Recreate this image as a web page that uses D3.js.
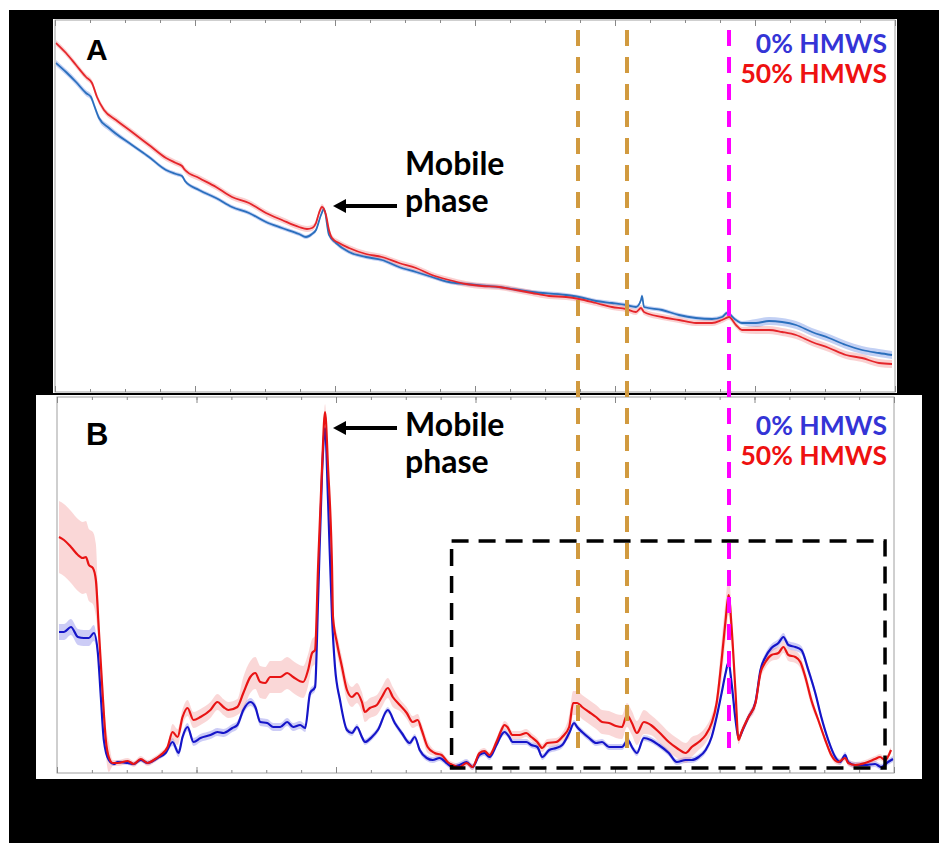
<!DOCTYPE html>
<html>
<head>
<meta charset="utf-8">
<script src="https://cdn.jsdelivr.net/npm/d3@7"></script>
<style>
  html, body { margin: 0; padding: 0; background: #fff; }
  svg { display: block; }
  text { font-family: Lato, "Open Sans", sans-serif; font-weight: 700; }
</style>
</head>
<body>
<svg id="chart" width="939" height="843"></svg>
<script>
// x in scan units (0..840), y in arbitrary intensity units
// panel A: 0% HMWS (blue) and 50% HMWS (red), raw spectra
const aBlue = [[1,329],[11,320],[21,310],[31,299],[36,295],[39,287],[44,274],[54,264],[77,247],[94,235],[111,222],[121,218],[127,216],[130,211],[144,202],[161,194],[177,185],[194,179],[211,170],[227,164],[244,158],[251,155],[257,158],[261,162],[266,177],[269,183],[274,157],[281,149],[294,140],[311,135],[327,132],[344,125],[361,120],[377,115],[394,110],[411,108],[444,105],[477,100],[511,97],[524,95],[541,91],[557,89],[571,87],[581,85],[586,92],[587,96],[589,85],[607,82],[624,77],[641,74],[657,73],[667,75],[672,79],[681,72],[687,69],[701,69],[714,71],[727,70],[741,67],[757,60],[774,54],[791,47],[807,42],[824,39],[837,37]];
const aRed = [[1,349],[11,339],[21,327],[31,315],[37,309],[42,295],[49,282],[61,272],[77,260],[94,247],[111,234],[121,229],[127,226],[130,222],[144,214],[161,205],[177,195],[194,189],[211,179],[227,172],[244,165],[252,163],[257,164],[261,169],[264,179],[267,185],[271,177],[274,162],[277,154],[284,149],[294,144],[311,138],[327,135],[344,129],[361,124],[377,117],[394,112],[411,108],[427,106],[444,105],[461,102],[477,99],[494,96],[511,95],[524,93],[541,89],[557,85],[571,83],[581,80],[586,84],[589,80],[607,75],[624,72],[641,69],[657,69],[667,72],[674,75],[681,67],[687,62],[701,62],[714,62],[727,60],[741,57],[757,50],[774,44],[791,37],[807,34],[824,29],[837,28]];

// panel B: processed spectra
const bBlue = [[2,141],[7,141],[14,146],[21,136],[27,135],[32,135],[37,140],[41,120],[44,76],[47,33],[52,13],[57,9],[61,11],[71,10],[77,9],[84,13],[91,10],[101,15],[109,20],[116,31],[122,20],[126,36],[131,46],[137,31],[144,35],[154,38],[161,41],[167,40],[176,45],[181,48],[187,63],[194,71],[199,66],[204,51],[211,50],[217,46],[224,46],[231,51],[237,46],[244,48],[249,45],[254,80],[259,86],[262,173],[266,300],[269,345],[272,273],[276,156],[279,106],[284,73],[291,43],[296,40],[301,46],[306,36],[309,31],[316,36],[322,43],[332,63],[339,50],[346,40],[354,30],[359,36],[364,23],[371,15],[377,13],[384,15],[391,10],[397,6],[404,8],[411,11],[417,6],[424,18],[429,20],[434,16],[441,28],[446,38],[449,41],[454,36],[457,31],[464,31],[471,31],[476,28],[482,26],[487,16],[494,23],[501,25],[507,28],[514,40],[519,50],[522,46],[527,41],[534,35],[541,30],[547,31],[554,26],[561,26],[567,26],[573,33],[577,26],[582,20],[589,35],[596,33],[604,28],[614,20],[622,11],[631,13],[637,13],[644,16],[651,23],[657,36],[662,56],[667,80],[671,100],[674,111],[677,90],[681,53],[684,35],[689,45],[694,56],[701,71],[706,103],[711,116],[717,125],[724,130],[729,136],[734,128],[741,126],[747,123],[754,103],[761,80],[767,56],[774,33],[781,16],[786,11],[791,18],[794,11],[801,8],[811,8],[821,9],[827,6],[834,11],[839,14]];
const bRed = [[2,236],[7,233],[14,226],[21,218],[26,215],[29,216],[32,208],[36,205],[39,193],[42,143],[46,76],[49,33],[52,16],[56,10],[61,10],[71,12],[77,9],[84,14],[91,10],[97,13],[104,18],[111,26],[116,41],[121,36],[126,56],[131,65],[137,53],[144,56],[154,63],[161,71],[167,66],[172,63],[181,66],[187,80],[194,96],[199,100],[204,91],[209,90],[214,96],[224,96],[231,100],[237,96],[247,91],[252,103],[256,120],[259,123],[262,206],[266,306],[269,361],[272,306],[276,206],[277,156],[281,130],[286,106],[291,83],[296,76],[301,80],[306,71],[309,61],[314,65],[321,68],[326,76],[332,85],[337,76],[344,68],[351,60],[357,51],[362,53],[366,43],[372,26],[379,20],[386,18],[392,11],[397,8],[404,6],[411,10],[417,6],[424,20],[429,22],[434,18],[441,31],[446,43],[449,48],[452,46],[457,38],[464,38],[471,40],[476,36],[482,31],[487,25],[492,30],[501,31],[507,36],[514,46],[518,70],[522,70],[527,66],[534,61],[541,56],[547,51],[554,50],[561,47],[567,46],[572,58],[577,50],[582,40],[589,51],[596,48],[604,41],[614,31],[622,25],[631,20],[637,26],[644,31],[651,38],[657,50],[662,70],[667,113],[671,153],[674,178],[677,146],[681,80],[684,33],[687,41],[694,56],[701,70],[706,100],[711,111],[717,118],[724,120],[729,126],[734,118],[741,116],[746,111],[751,96],[757,73],[764,53],[771,33],[777,18],[784,11],[791,15],[794,10],[801,8],[811,10],[821,14],[826,16],[831,13],[837,23]];

// shaded error band half widths, [xFrom, xTo, halfWidth]
const aBlueErr = [[0,60,3],[60,700,2],[700,840,4]];
const aRedErr = [[0,700,3],[700,840,4]];
const bBlueErr = [[0,40,8],[40,110,2],[110,260,4],[260,700,3],[700,760,4],[760,840,3]];
const bRedErr = [[0,40,36],[40,55,15],[55,115,3],[115,185,8],[185,255,16],[255,265,14],[265,280,8],[280,340,10],[340,375,6],[375,440,3],[440,510,4],[510,590,12],[590,640,10],[640,665,8],[665,680,20],[680,700,4],[700,760,6],[760,840,3]];

// marker positions (x units)
const orangeMarks = [523, 572];
const magentaMarks = [674];
const zoomBox = {x0: 396, x1: 831, y0: 5, y1: 232};

const legendLabels = ["0% HMWS", "50% HMWS"];
const panelLabels = ["A", "B"];

const svg = d3.select('#chart');

// background
svg.append('rect').attr('width', 939).attr('height', 843).attr('fill', '#fff');
svg.append('rect').attr('x', 9).attr('y', 10).attr('width', 930).attr('height', 833).attr('fill', '#000');

function errAt(segs, x) {
    for (const s of segs) if (x >= s[0] && x <= s[1]) return s[2];
    return 0;
}

function drawPanel(cfg) {
    const g = svg.append('g');
    g.append('rect')
        .attr('x', cfg.box[0]).attr('y', cfg.box[1])
        .attr('width', cfg.box[2]).attr('height', cfg.box[3])
        .attr('fill', '#fff');

    const x = d3.scaleLinear().domain([0, 840]).range([cfg.left, cfg.right]);
    const y = d3.scaleLinear().domain(cfg.yDomain).range([cfg.bottom, cfg.top]);

    const clipId = 'clip-' + cfg.name;
    g.append('clipPath').attr('id', clipId)
        .append('rect')
        .attr('x', cfg.left).attr('y', cfg.top)
        .attr('width', cfg.right - cfg.left).attr('height', cfg.bottom - cfg.top);

    const plot = g.append('g').attr('clip-path', `url(#${clipId})`);

    cfg.series.forEach(s => {
        const area = d3.area()
            .curve(d3.curveMonotoneX)
            .x(d => x(d[0]))
            .y0(d => y(d[1] - errAt(s.err, d[0])))
            .y1(d => y(d[1] + errAt(s.err, d[0])));
        plot.append('path')
            .datum(s.data)
            .attr('d', area)
            .attr('fill', s.band);
    });
    cfg.series.forEach(s => {
        const line = d3.line().curve(d3.curveMonotoneX).x(d => x(d[0])).y(d => y(d[1]));
        plot.append('path')
            .datum(s.data)
            .attr('d', line)
            .attr('fill', 'none')
            .attr('stroke', s.color)
            .attr('stroke-width', s.width)
            .attr('stroke-linejoin', 'round');
    });

    // frame
    g.append('rect')
        .attr('x', cfg.left).attr('y', cfg.top)
        .attr('width', cfg.right - cfg.left).attr('height', cfg.bottom - cfg.top)
        .attr('fill', 'none').attr('stroke', '#a0a0a0').attr('stroke-width', 1);

    // inward ticks, top and bottom, minor + major
    const minor = d3.range(0, 841, 35);
    const major = d3.range(0, 841, 140);
    [[minor, 3], [major, 6]].forEach(([vals, len]) => {
        g.append('g')
            .attr('transform', `translate(0,${cfg.bottom})`)
            .call(d3.axisBottom(x).tickValues(vals).tickSize(-len).tickFormat(''))
            .call(a => a.select('.domain').remove())
            .call(a => a.selectAll('line').attr('stroke', '#888'));
        g.append('g')
            .attr('transform', `translate(0,${cfg.top})`)
            .call(d3.axisTop(x).tickValues(vals).tickSize(-len).tickFormat(''))
            .call(a => a.select('.domain').remove())
            .call(a => a.selectAll('line').attr('stroke', '#888'));
    });

    // panel letter
    g.append('text')
        .attr('x', 86).attr('y', cfg.letterY)
        .attr('font-size', cfg.letterSize)
        .style('font-family', 'Liberation Sans, Arial, sans-serif')
        .style('font-weight', 700)
        .text(cfg.letter);

    // mobile phase annotation
    g.append('text').attr('x', 405).attr('y', cfg.mobileY).attr('font-size', 32).attr('fill', '#000').text('Mobile');
    g.append('text').attr('x', 405).attr('y', cfg.mobileY + 37).attr('font-size', 32).attr('fill', '#000').text('phase');
    const ay = cfg.arrowY;
    g.append('line').attr('x1', 344).attr('x2', 397).attr('y1', ay).attr('y2', ay)
        .attr('stroke', '#000').attr('stroke-width', 4);
    g.append('path')
        .attr('d', `M333,${ay} L346,${ay - 7} L346,${ay + 7} Z`)
        .attr('fill', '#000');

    // legend
    g.append('text').attr('x', 887).attr('y', cfg.legendY).attr('text-anchor', 'end')
        .attr('font-size', 26.5).attr('fill', '#3434d6').text(legendLabels[0]);
    g.append('text').attr('x', 887).attr('y', cfg.legendY + 30).attr('text-anchor', 'end')
        .attr('font-size', 26.5).attr('fill', '#ee1111').text(legendLabels[1]);

    return {x, y};
}

const pA = drawPanel({
    name: 'A', letter: panelLabels[0], letterY: 60, letterSize: 30,
    box: [53, 19, 844, 374],
    left: 55, right: 895, top: 20, bottom: 392,
    yDomain: [0, 372],
    mobileY: 175, arrowY: 206, legendY: 53,
    series: [
        {data: aBlue, err: aBlueErr, color: '#2a6fbd', band: 'rgba(120,150,230,0.45)', width: 1.8},
        {data: aRed, err: aRedErr, color: '#e5252a', band: 'rgba(240,120,120,0.35)', width: 1.8}
    ]
});

const pB = drawPanel({
    name: 'B', letter: panelLabels[1], letterY: 445, letterSize: 31,
    box: [36, 395, 886, 384],
    left: 57, right: 894, top: 397, bottom: 773,
    yDomain: [0, 376],
    mobileY: 436, arrowY: 428, legendY: 435,
    series: [
        {data: bBlue, err: bBlueErr, color: '#1515c8', band: 'rgba(110,110,230,0.35)', width: 2.2},
        {data: bRed, err: bRedErr, color: '#e81414', band: 'rgba(240,130,130,0.32)', width: 2.2}
    ]
});

// black dashed zoom box in panel B
svg.append('rect')
    .attr('x', pB.x(zoomBox.x0)).attr('y', pB.y(zoomBox.y1))
    .attr('width', pB.x(zoomBox.x1) - pB.x(zoomBox.x0))
    .attr('height', pB.y(zoomBox.y0) - pB.y(zoomBox.y1))
    .attr('fill', 'none').attr('stroke', '#000')
    .attr('stroke-width', 3.5).attr('stroke-dasharray', '17,10');

// vertical dashed markers spanning both panels
svg.selectAll('.orange')
    .data(orangeMarks).enter().append('line')
    .attr('x1', d => pA.x(d)).attr('x2', d => pA.x(d))
    .attr('y1', 30).attr('y2', 757)
    .attr('stroke', '#d19a3f').attr('stroke-width', 4).attr('stroke-dasharray', '16,11');
svg.selectAll('.magenta')
    .data(magentaMarks).enter().append('line')
    .attr('x1', d => pA.x(d)).attr('x2', d => pA.x(d))
    .attr('y1', 30).attr('y2', 757)
    .attr('stroke', '#ff00ff').attr('stroke-width', 4).attr('stroke-dasharray', '16,11');
</script>
</body>
</html>
